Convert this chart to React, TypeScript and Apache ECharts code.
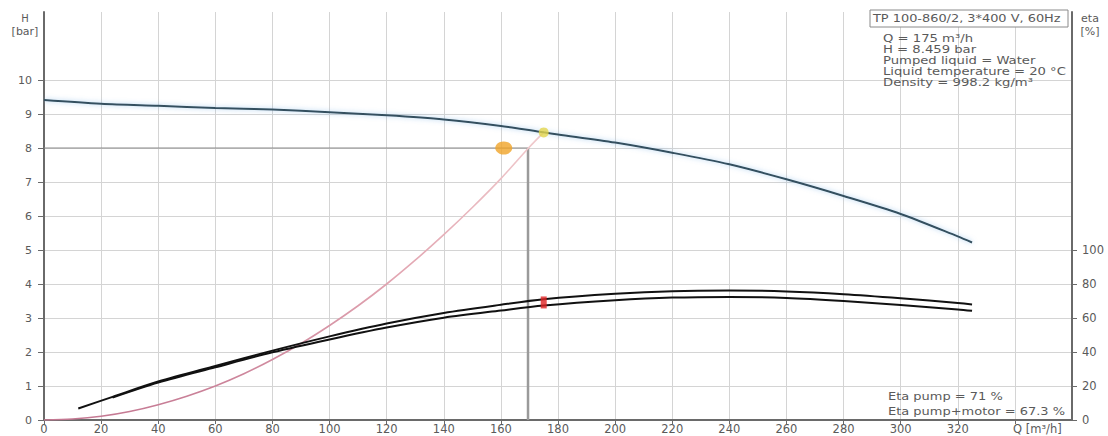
import React, { useEffect, useRef } from "react";
import * as echarts from "echarts";

// Pump head curve H(Q)
const flowH = [0, 20, 40, 60, 80, 100, 120, 140, 160, 175, 180, 200, 220, 240, 260, 280, 300, 320, 325];
const headH = [9.41, 9.3, 9.24, 9.18, 9.13, 9.05, 8.96, 8.84, 8.65, 8.46, 8.4, 8.16, 7.86, 7.52, 7.08, 6.59, 6.06, 5.4, 5.22];

// Efficiency curves (%)
const flowEtaPump = [12, 24, 40, 60, 80, 100, 120, 140, 160, 175, 200, 220, 240, 260, 280, 300, 320, 325];
const etaPump = [6.8, 13.6, 22.6, 31.8, 40.8, 49.2, 56.8, 63, 67.8, 71, 74.2, 75.8, 76.2, 75.6, 74, 71.6, 68.8, 68];
const flowEtaPM = [24, 40, 60, 80, 100, 120, 140, 160, 175, 200, 220, 240, 260, 280, 300, 320, 325];
const etaPumpMotor = [13.2, 22, 31, 39.8, 47.4, 54.4, 60.2, 64.4, 67.3, 70.4, 72, 72.4, 71.8, 70, 67.6, 65, 64.2];

// System curve
const flowSys = [0, 10, 20, 30, 40, 50, 60, 70, 80, 90, 100, 110, 120, 130, 140, 150, 160, 170, 175];
const headSys = [0, 0.03, 0.11, 0.25, 0.45, 0.7, 1.0, 1.36, 1.78, 2.25, 2.78, 3.36, 4.0, 4.7, 5.45, 6.25, 7.1, 8.03, 8.46];

// Points
const dutyQ = 169.5;
const dutyH = 8;
const requestedPoint = [161, 8];
const actualPoint = [175, 8.459];
const etaMarker = [175, 69.15];

const xTicks = [0, 20, 40, 60, 80, 100, 120, 140, 160, 180, 200, 220, 240, 260, 280, 300, 320];
const xTickMarks = [...xTicks, 340];
const hTicks = [0, 1, 2, 3, 4, 5, 6, 7, 8, 9, 10];
const etaTicks = [0, 20, 40, 60, 80, 100];

const infoTitle = "TP 100-860/2, 3*400 V, 60Hz";
const infoLines = [
  "Q = 175 m³/h",
  "H = 8.459 bar",
  "Pumped liquid = Water",
  "Liquid temperature = 20 °C",
  "Density = 998.2 kg/m³",
];
const etaLines = ["Eta pump = 71 %", "Eta pump+motor = 67.3 %"];

const FONT = "'DejaVu Sans', Verdana, sans-serif";
const TXT = "#5a5a5a";

export default function App() {
  const ref = useRef<HTMLDivElement>(null);
  useEffect(() => {
    const chart = echarts.init(ref.current!, null, { renderer: "svg" });
    const zip = (a: number[], b: number[]) => a.map((v, i) => [v, b[i]]);
    const txt = (text: string, x: number, y: number, fontSize: number, scaleX = 1, align = "left") => ({
      type: "text",
      x,
      y,
      scaleX,
      z: 11,
      style: { text, fontSize, fill: TXT, fontFamily: FONT, verticalAlign: "middle", align },
    });
    const option: any = {
      animation: false,
      backgroundColor: "#ffffff",
      textStyle: { fontFamily: FONT },
      grid: { left: 44, right: 36, top: 12, bottom: 16, containLabel: false, outerBoundsMode: "none" },
      xAxis: {
        type: "value",
        min: 0,
        max: 360,
        interval: 20,
        axisLine: { lineStyle: { color: "#6a6a6a", width: 2 } },
        axisTick: { show: true, length: 4, customValues: xTickMarks, lineStyle: { color: "#6a6a6a" } },
        axisLabel: { customValues: xTicks, margin: 3, fontSize: 11.5, color: TXT, fontFamily: FONT },
        splitLine: { show: true, lineStyle: { color: "#d4d4d4", width: 1 } },
      },
      yAxis: [
        {
          type: "value",
          min: 0,
          max: 12,
          interval: 1,
          axisLine: { show: true, lineStyle: { color: "#6a6a6a", width: 2 } },
          axisTick: { show: true, length: 6, customValues: hTicks, lineStyle: { color: "#6a6a6a" } },
          axisLabel: { customValues: hTicks, margin: 12, fontSize: 11, color: TXT, fontFamily: FONT },
          splitLine: { show: true, lineStyle: { color: "#d4d4d4", width: 1 } },
        },
        {
          type: "value",
          position: "right",
          min: 0,
          max: 240,
          interval: 20,
          axisLine: { show: true, lineStyle: { color: "#6a6a6a", width: 2 } },
          axisTick: { show: true, length: 5, customValues: etaTicks, lineStyle: { color: "#6a6a6a" } },
          axisLabel: { customValues: etaTicks, margin: 10, fontSize: 11.5, color: TXT, fontFamily: FONT },
          splitLine: { show: false },
        },
      ],
      series: [
        {
          type: "line",
          data: [[0, dutyH], [dutyQ, dutyH]],
          symbol: "none",
          lineStyle: { color: "#8a8a8a", width: 1.2 },
          z: 2,
        },
        {
          type: "line",
          data: [[dutyQ, dutyH], [dutyQ, 0]],
          symbol: "none",
          lineStyle: { color: "#9a9a9a", width: 2.5 },
          z: 2,
        },
        {
          type: "line",
          data: zip(flowSys, headSys),
          smooth: 0.3,
          symbol: "none",
          lineStyle: {
            width: 1.6,
            color: new echarts.graphic.LinearGradient(0, 1, 0, 0, [
              { offset: 0, color: "#c47892" },
              { offset: 0.5, color: "#e2a6b2" },
              { offset: 1, color: "#f0cacc" },
            ]),
          },
          z: 3,
        },
        {
          type: "line",
          data: zip(flowH, headH),
          smooth: 0.3,
          symbol: "none",
          lineStyle: {
            color: "#34505e",
            width: 2,
            shadowColor: "rgba(110,170,225,0.6)",
            shadowBlur: 5,
          },
          z: 4,
        },
        {
          type: "line",
          yAxisIndex: 1,
          data: zip(flowEtaPump, etaPump),
          smooth: 0.3,
          symbol: "none",
          lineStyle: { color: "#111111", width: 2 },
          z: 4,
        },
        {
          type: "line",
          yAxisIndex: 1,
          data: zip(flowEtaPM, etaPumpMotor),
          smooth: 0.3,
          symbol: "none",
          lineStyle: { color: "#111111", width: 2 },
          z: 4,
        },
        {
          type: "scatter",
          data: [requestedPoint],
          symbol: "circle",
          symbolSize: [17, 13],
          itemStyle: { color: "#f0a428" },
          z: 6,
        },
        {
          type: "scatter",
          data: [actualPoint],
          symbol: "circle",
          symbolSize: 10,
          itemStyle: { color: "#e4d64c" },
          z: 6,
        },
        {
          type: "scatter",
          yAxisIndex: 1,
          data: [etaMarker],
          symbol: "rect",
          symbolSize: [6, 12],
          itemStyle: { color: "#e02424" },
          z: 6,
        },
      ],
      graphic: [
        txt("H", 25, 18, 10, 1, "center"),
        txt("[bar]", 25, 31, 10, 1.1, "center"),
        txt("eta", 1090, 18, 10, 1.1, "center"),
        txt("[%]", 1090, 31, 10, 1.1, "center"),
        txt("Q [m³/h]", 1013, 429, 11.5, 1),
        {
          type: "rect",
          shape: { x: 870, y: 10, width: 198, height: 17 },
          style: { fill: "#ffffff", stroke: "#8a8a8a", lineWidth: 1 },
          z: 10,
        },
        txt(infoTitle, 873, 18.5, 10, 1.29),
        ...infoLines.map((t, i) => txt(t, 883, 39 + i * 11, 10, 1.32)),
        ...etaLines.map((t, i) => txt(t, 888, 397 + i * 14.5, 10, 1.3)),
      ],
    };
    chart.setOption(option);
    return () => chart.dispose();
  }, []);
  return (
    <div
      ref={ref}
      style={{ position: "fixed", left: 0, top: 0, width: 1108, height: 436, background: "#fff" }}
    />
  );
}
